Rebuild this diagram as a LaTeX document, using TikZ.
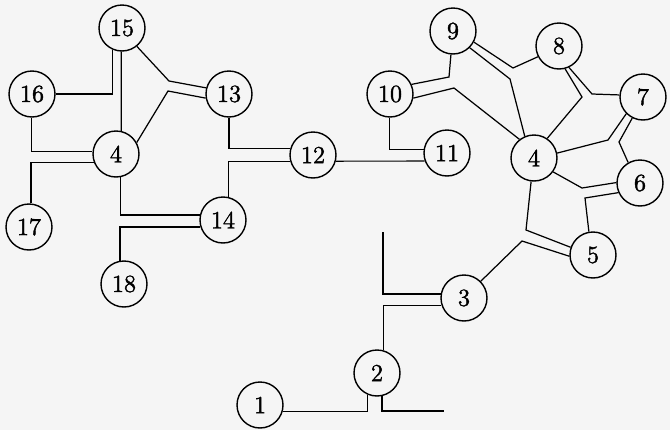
\documentclass[tikz,border=0pt]{standalone}
\usepackage{fontspec}
\newfontfamily\numfont{lmroman12-regular.otf}[FakeBold=1.6]
\usepackage{tikz}
\usetikzlibrary{calc}

\begin{document}
\begin{tikzpicture}[x=0.02cm,y=-0.02cm,
  atom/.style={circle,draw,line width=0.8pt,minimum size=0.92cm,inner sep=0pt,font=\numfont\fontsize{14}{16}\selectfont},
  bond/.style={line width=0.7pt}]
\fill[black!4] (0,0) rectangle (670,430);
\useasboundingbox (0,0) rectangle (670,430);
\node[atom] (n1) at (260,405) {1};
\node[atom] (n2) at (377,373) {2};
\node[atom] (n3) at (464,298) {3};
\node[atom] (n4b) at (534,158) {4};
\node[atom] (n5) at (593,255) {5};
\node[atom] (n6) at (640,183) {6};
\node[atom] (n7) at (643,97) {7};
\node[atom] (n8) at (559,46) {8};
\node[atom] (n9) at (453,31) {9};
\node[atom] (n10) at (390,94) {10};
\node[atom] (n11) at (447,153) {11};
\node[atom] (n12) at (313,155) {12};
\node[atom] (n13) at (229,94) {13};
\node[atom] (n14) at (223,220) {14};
\node[atom] (n15) at (122,28) {15};
\node[atom] (n16) at (32,94) {16};
\node[atom] (n17) at (29,227) {17};
\node[atom] (n18) at (124,284) {18};
\node[atom] (n4a) at (116,154) {4};
\coordinate (end3) at (383,232);
\coordinate (end2) at (444,411);
\draw[bond] (n16.east) -| (n15.-113);
\draw[bond] (n15.-92) -- (n4a.77);
\draw[bond] (n15.-51) -- (169,81) -- (n13.165);
\draw[bond] (n4a.29) -- (168,91) -- (n13.-170);
\draw[bond] (n16.-92) |- (n4a.173);
\draw[bond] (n4a.-159) -| (n17.85);
\draw[bond] (n13.south) |- (n12.165);
\draw[bond] (n12.-165) -| (n14.77);
\draw[bond] (n4a.-80) |- (n14.168);
\draw[bond] (n14.-163) -| (n18.100);
\draw[bond] (n10.-92) |- (n11.172);
\draw[bond] (n12.-15) -- (n11.-160);
\draw[bond] (n9.-95) -- (449,77) -- (n10.24);
\draw[bond] (n10.-10) -- (454,88) -- (n4b.128);
\draw[bond] (n9.-28) -- (513,68) -- (n8.-153);
\draw[bond] (n9.-45) -- (510,79) -- (n4b.113);
\draw[bond] (n8.-65) -- (592,94) -- (n7.175);
\draw[bond] (n8.-75) -- (582,97) -- (n4b.56);
\draw[bond] (n7.-135) -- (608,140) -- (n4b.12);
\draw[bond] (n7.-117) -- (619,142) -- (n6.120);
\draw[bond] (n4b.-36) -- (582,188) -- (n6.179);
\draw[bond] (n6.-156) -- (585,198) -- (n5.100);
\draw[bond] (n4b.-97) -- (526,230) -- (n5.161);
\draw[bond] (n5.-177) -- (522,241) -- (n3.45);
\draw[bond] (end3) |- (n3.170);
\draw[bond] (n3.-162) -| (n2.75);
\draw[bond] (n2.-113) |- (n1.-15);
\draw[bond] (n2.-78) |- (end2);
\end{tikzpicture}
\end{document}
